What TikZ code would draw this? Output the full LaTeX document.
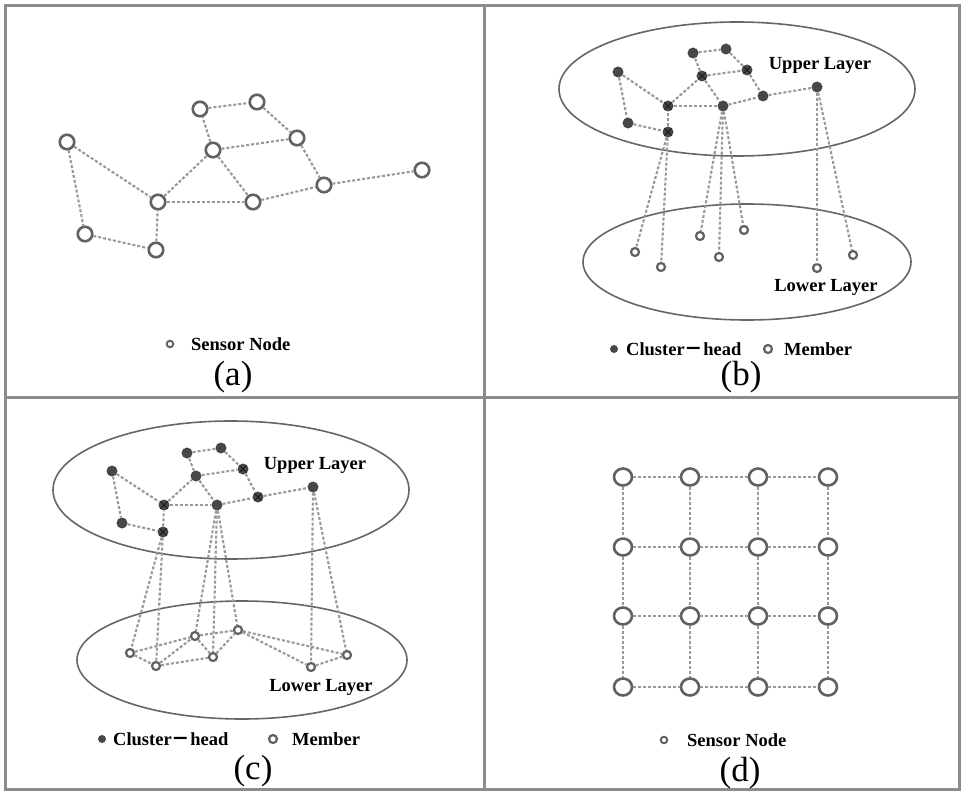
\documentclass[tikz,border=0pt]{standalone}
\usepackage{fontspec}
\setmainfont{Liberation Serif}
\newfontfamily\cjk{Noto Sans CJK SC}
\usetikzlibrary{shapes.geometric}
\begin{document}
\begin{tikzpicture}[x=1pt,y=-1pt,
  frameline/.style={draw=black!45,line width=3pt},
  layer/.style={draw=black!60,line width=1.6pt},
  link/.style={draw=black!40,line width=2.1pt,dash pattern=on 3pt off 2pt},
  sensor/.style={circle,draw=black!62,line width=2.6pt,fill=white,minimum size=14.5pt,inner sep=0pt},
  gridnode/.style={ellipse,draw=black!62,line width=2.6pt,fill=white,minimum width=18pt,minimum height=17pt,inner sep=0pt},
  head/.style={circle,fill=black!72,minimum size=11pt,inner sep=0pt},
  headx/.style={head,path picture={\draw[black!90,line width=1pt]
      ([shift={(2pt,2pt)}]path picture bounding box.south west) -- ([shift={(-2pt,-2pt)}]path picture bounding box.north east)
      ([shift={(2pt,-2pt)}]path picture bounding box.north west) -- ([shift={(-2pt,2pt)}]path picture bounding box.south east);}},
  member/.style={circle,draw=black!62,line width=2.2pt,fill=white,minimum size=8pt,inner sep=0pt},
  keysensor/.style={circle,draw=black!62,line width=2pt,fill=white,minimum size=6.5pt,inner sep=0pt},
  keyhead/.style={circle,fill=black!72,minimum size=8pt,inner sep=0pt},
  keytext/.style={anchor=west,inner sep=0pt,font=\fontsize{18.5}{20}\selectfont\bfseries},
  layertext/.style={inner sep=0pt,font=\fontsize{18.5}{20}\selectfont\bfseries},
  caption/.style={inner sep=0pt,font=\fontsize{35}{38}\selectfont}]

\useasboundingbox (0,0) rectangle (962,792);
\fill[white] (0,0) rectangle (962,792);

% outer frame and panel dividers
\draw[frameline] (5.5,5.5) rectangle (959,789);
\draw[frameline] (484,5.5) -- (484,789);
\draw[frameline] (5.5,397) -- (959,397);

% ---------- (a) flat network ----------
\node[sensor] (a1) at (67,142) {};
\node[sensor] (a2) at (85,234) {};
\node[sensor] (a3) at (156,250) {};
\node[sensor] (a4) at (158,202) {};
\node[sensor] (a5) at (213,150) {};
\node[sensor] (a6) at (200,109) {};
\node[sensor] (a7) at (257,102) {};
\node[sensor] (a8) at (297,138) {};
\node[sensor] (a9) at (253,202) {};
\node[sensor] (a10) at (324,185) {};
\node[sensor] (a11) at (422,170) {};
\foreach \u/\v in {a1/a4,a1/a2,a2/a3,a3/a4,a4/a5,a4/a9,a5/a6,a5/a8,a5/a9,a6/a7,a7/a8,a8/a10,a9/a10,a10/a11}
  \draw[link] (\u) -- (\v);
\node[keysensor] (ka) at (170,344) {};
\node[keytext] (kta) at (191,344) {Sensor Node};
\node[caption] (capa) at (233,377) {(a)};

% ---------- (b) two layers, heads linked to members ----------
\draw[layer] (737,89) ellipse [x radius=178pt,y radius=67pt];
\draw[layer] (747,262) ellipse [x radius=164pt,y radius=58pt];
\node[layertext] (ub) at (820,65) {Upper Layer};
\node[layertext] (lb) at (826,287) {Lower Layer};
\node[head]  (b1) at (618,72) {};
\node[head]  (b2) at (628,123) {};
\node[headx] (b3) at (668,132) {};
\node[headx] (b4) at (668,106) {};
\node[headx] (b5) at (702,76) {};
\node[head]  (b6) at (693,53) {};
\node[head]  (b7) at (726,49) {};
\node[headx] (b8) at (747,70) {};
\node[head]  (b9) at (763,96) {};
\node[head]  (b10) at (723,106) {};
\node[head]  (b11) at (817,87) {};
\foreach \u/\v in {b1/b4,b1/b2,b2/b3,b3/b4,b4/b5,b4/b10,b5/b6,b5/b8,b5/b10,b6/b7,b7/b8,b8/b9,b10/b9,b9/b11}
  \draw[link] (\u) -- (\v);
\node[member] (bm1) at (635,252) {};
\node[member] (bm2) at (661,267) {};
\node[member] (bm3) at (700,236) {};
\node[member] (bm4) at (719,257) {};
\node[member] (bm5) at (744,230) {};
\node[member] (bm6) at (817,268) {};
\node[member] (bm7) at (853,255) {};
\foreach \u/\v in {b3/bm1,b3/bm2,b10/bm3,b10/bm4,b10/bm5,b11/bm6,b11/bm7}
  \draw[link] (\u) -- (\v);
\node[keyhead] (kbh) at (614,349) {};
\node[keytext] (ktbh) at (626,349) {Cluster{\cjk －}head};
\node[member] (kbm) at (768,349) {};
\node[keytext] (ktbm) at (784,349) {Member};
\node[caption] (capb) at (741,377) {(b)};

% ---------- (c) two layers, members also linked ----------
\draw[layer] (231,490) ellipse [x radius=178pt,y radius=69pt];
\draw[layer] (242,660) ellipse [x radius=165pt,y radius=59pt];
\node[layertext] (uc) at (315,465) {Upper Layer};
\node[layertext] (lc) at (321,687) {Lower Layer};
\node[head]  (c1) at (112,471) {};
\node[head]  (c2) at (122,523) {};
\node[headx] (c3) at (163,532) {};
\node[headx] (c4) at (164,505) {};
\node[head]  (c5) at (196,476) {};
\node[head]  (c6) at (187,453) {};
\node[head]  (c7) at (221,448) {};
\node[headx] (c8) at (243,469) {};
\node[headx] (c9) at (258,497) {};
\node[head]  (c10) at (217,505) {};
\node[head]  (c11) at (313,487) {};
\foreach \u/\v in {c1/c4,c1/c2,c2/c3,c3/c4,c4/c5,c4/c10,c5/c6,c5/c8,c5/c10,c6/c7,c7/c8,c8/c9,c10/c9,c9/c11}
  \draw[link] (\u) -- (\v);
\node[member] (cm1) at (130,653) {};
\node[member] (cm2) at (156,666) {};
\node[member] (cm3) at (195,636) {};
\node[member] (cm4) at (213,657) {};
\node[member] (cm5) at (238,630) {};
\node[member] (cm6) at (311,667) {};
\node[member] (cm7) at (347,655) {};
\foreach \u/\v in {c3/cm1,c3/cm2,c10/cm3,c10/cm4,c10/cm5,c11/cm6,c11/cm7,
                   cm1/cm2,cm1/cm3,cm2/cm3,cm2/cm4,cm3/cm4,cm3/cm5,cm4/cm5,cm5/cm6,cm5/cm7,cm6/cm7}
  \draw[link] (\u) -- (\v);
\node[keyhead] (kch) at (102,739) {};
\node[keytext] (ktch) at (113,739) {Cluster{\cjk －}head};
\node[member] (kcm) at (273,739) {};
\node[keytext] (ktcm) at (292,739) {Member};
\node[caption] (capc) at (253,771) {(c)};

% ---------- (d) regular grid ----------
\foreach \x [count=\i] in {623,690,758,828}
  \foreach \y [count=\j] in {477,547,616,687}
    \node[gridnode] (d-\i-\j) at (\x,\y) {};
\foreach \i in {1,2,3,4} {
  \foreach \j in {1,2,3} {
    \pgfmathtruncatemacro{\nxt}{\j+1}
    \draw[link] (d-\i-\j) -- (d-\i-\nxt);
    \draw[link] (d-\j-\i) -- (d-\nxt-\i);
  }
}
\node[keysensor] (kd) at (664,740) {};
\node[keytext] (ktd) at (687,740) {Sensor Node};
\node[caption] (capd) at (740,773) {(d)};
\end{tikzpicture}
\end{document}
